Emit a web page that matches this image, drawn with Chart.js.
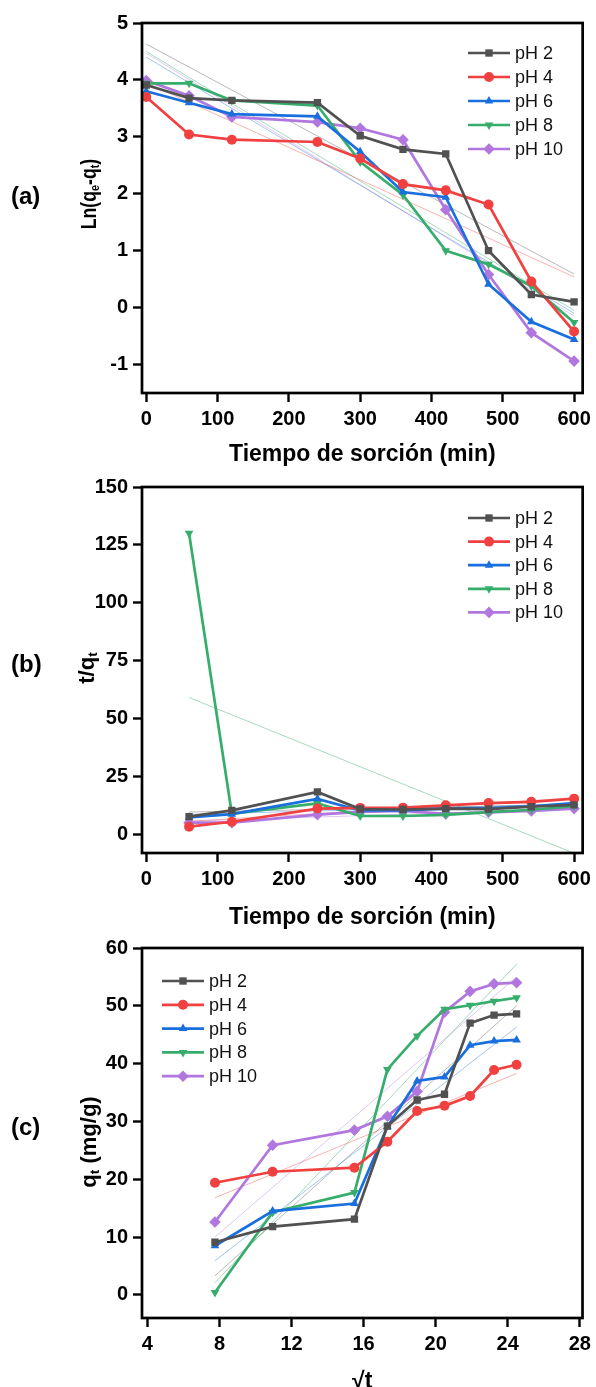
<!DOCTYPE html>
<html>
<head>
<meta charset="utf-8">
<script src="https://cdn.jsdelivr.net/npm/chart.js@4.4.1/dist/chart.umd.min.js"></script>
<style>
  html, body { margin: 0; padding: 0; background: #fff; }
  .panel { position: absolute; left: 0; width: 596px; }
</style>
</head>
<body>
<div class="panel" style="top:0px;height:470px"><canvas id="chartA" width="596" height="470"></canvas></div>
<div class="panel" style="top:470px;height:460px"><canvas id="chartB" width="596" height="460"></canvas></div>
<div class="panel" style="top:920px;height:467px"><canvas id="chartC" width="596" height="467"></canvas></div>
<script>
// series names and colours
const seriesNames = ['pH 2', 'pH 4', 'pH 6', 'pH 8', 'pH 10'];
const colors = ['#515151', '#F14040', '#1A6FDF', '#37AD6B', '#B177DE'];
const fitColors = ['rgba(81,81,81,0.45)', 'rgba(241,64,64,0.45)', 'rgba(26,111,223,0.45)', 'rgba(55,173,107,0.5)', 'rgba(177,119,222,0.45)'];
const markers = ['rect', 'circle', 'triangle', 'triangle', 'rectRot'];
const rotations = [0, 0, 0, 180, 0];

// (a) Ln(qe-qt) vs t
const timeA = [0, 60, 120, 240, 300, 360, 420, 480, 540, 600];
const lnPH2 = [3.91, 3.68, 3.64, 3.60, 3.02, 2.78, 2.70, 1.00, 0.23, 0.10];
const lnPH4 = [3.70, 3.04, 2.95, 2.91, 2.62, 2.17, 2.06, 1.81, 0.46, -0.42];
const lnPH6 = [3.80, 3.60, 3.40, 3.36, 2.74, 2.03, 1.94, 0.41, -0.25, -0.56];
const lnPH8 = [3.94, 3.94, 3.64, 3.55, 2.56, 1.98, 1.00, 0.76, 0.38, -0.26];
const lnPH10 = [3.99, 3.72, 3.35, 3.26, 3.15, 2.95, 1.72, 0.58, -0.44, -0.94];
const fitXA = [0, 600];
const fitA = [[4.63, 0.59], [3.95, 0.54], [4.40, -0.10], [4.50, -0.05], [4.47, -0.15]];
const ticksXA = [0, 100, 200, 300, 400, 500, 600];
const ticksYA = [-1, 0, 1, 2, 3, 4, 5];

// (b) t/qt vs t
const timeB = [60, 120, 240, 300, 360, 420, 480, 540, 600];
const tqPH2 = [7.5, 10.2, 18.2, 10.8, 10.6, 11.0, 10.8, 11.8, 12.6];
const tqPH4 = [3.2, 5.3, 11.0, 11.3, 11.4, 12.4, 13.4, 13.9, 15.3];
const tqPH6 = [7.2, 8.6, 15.2, 10.2, 10.2, 11.0, 11.2, 12.0, 13.4];
const tqPH8 = [130, 8.8, 13.2, 7.8, 7.8, 8.3, 9.5, 10.5, 12.0];
const tqPH10 = [4.9, 4.9, 8.4, 9.6, 10.0, 8.7, 9.4, 10.0, 11.0];
const fitXB = [60, 600];
const fitB = [[9.5, 12.8], [5.5, 15.5], [8.5, 13.0], [59, -8.3], [5.5, 11.0]];
const ticksXB = [0, 100, 200, 300, 400, 500, 600];
const ticksYB = [0, 25, 50, 75, 100, 125, 150];

// (c) qt vs sqrt(t)
const sqrtT = [7.75, 10.95, 15.49, 17.32, 18.97, 20.49, 21.91, 23.24, 24.49];
const qPH2 = [9.1, 11.8, 13.1, 29.2, 33.7, 34.7, 47.0, 48.4, 48.6];
const qPH4 = [19.4, 21.3, 22.0, 26.5, 31.8, 32.7, 34.4, 38.9, 39.8];
const qPH6 = [8.5, 14.5, 15.8, 29.1, 37.0, 37.7, 43.2, 43.9, 44.1];
const qPH8 = [0.4, 14.3, 17.7, 39.0, 44.8, 49.4, 50.1, 50.8, 51.4];
const qPH10 = [12.6, 25.9, 28.5, 30.9, 35.2, 48.9, 52.5, 53.8, 54.0];
const fitXC = [7.75, 24.49];
const fitC = [[3.3, 50.0], [16.8, 38.3], [5.9, 46.3], [2.1, 57.2], [10.0, 55.0]];
const ticksXC = [4, 8, 12, 16, 20, 24, 28];
const ticksYC = [0, 10, 20, 30, 40, 50, 60];

const sans = "'Liberation Sans', Arial, sans-serif";

function markerRadius(i) {
  return markers[i] === 'rect' ? 5.2 : (markers[i] === 'rectRot' ? 5.8 : 5);
}

function makeDatasets(xs, seriesList, fitX, fits) {
  const sets = [];
  seriesList.forEach((ys, i) => {
    sets.push({
      label: seriesNames[i],
      data: ys.map((y, k) => ({ x: xs[k], y: y })),
      borderColor: colors[i],
      backgroundColor: colors[i],
      borderWidth: 2.7,
      pointStyle: markers[i],
      rotation: rotations[i],
      pointRadius: markerRadius(i),
      pointBorderWidth: 0,
      tension: 0,
      order: 1
    });
  });
  fits.forEach((f, i) => {
    sets.push({
      label: 'fit ' + seriesNames[i],
      data: f.map((y, k) => ({ x: fitX[k], y: y })),
      borderColor: fitColors[i],
      borderWidth: 0.9,
      pointRadius: 0,
      tension: 0,
      order: 10
    });
  });
  return sets;
}

function axisOpts(min, max, tickValues, fit) {
  return {
    type: 'linear',
    min: min, max: max,
    ticks: {
      color: '#000',
      font: { family: sans, size: 20, weight: 'bold' },
      padding: 5,
      autoSkip: false,
      maxRotation: 0
    },
    grid: {
      display: true, drawOnChartArea: false, drawTicks: true,
      tickLength: 9, tickWidth: 2.4, tickColor: '#000', color: '#000'
    },
    border: { display: false },
    afterBuildTicks: s => { s.ticks = tickValues.map(v => ({ value: v })); },
    afterFit: fit
  };
}

// text with subscripts, optionally rotated and condensed
function drawRich(ctx, parts, cx, cy, size, rotate, squeeze) {
  ctx.save();
  ctx.translate(cx, cy);
  if (rotate) ctx.rotate(-Math.PI / 2);
  ctx.scale(squeeze, 1);
  let total = 0;
  parts.forEach(p => {
    ctx.font = 'bold ' + (p.sub ? size * 0.62 : size) + 'px ' + sans;
    total += ctx.measureText(p.t).width;
  });
  let x = -total / 2;
  ctx.fillStyle = '#000';
  ctx.textBaseline = 'alphabetic';
  ctx.textAlign = 'left';
  parts.forEach(p => {
    ctx.font = 'bold ' + (p.sub ? size * 0.62 : size) + 'px ' + sans;
    ctx.fillText(p.t, x, p.sub ? size * 0.5 : size * 0.36);
    x += ctx.measureText(p.t).width;
  });
  ctx.restore();
}

function panelPlugin(cfg) {
  return {
    id: 'panel' + cfg.tag,
    afterDraw(chart) {
      const ctx = chart.ctx;
      const a = chart.chartArea;
      ctx.save();
      // frame
      ctx.strokeStyle = '#000';
      ctx.lineWidth = 2.7;
      ctx.strokeRect(a.left, a.top, a.right - a.left, a.bottom - a.top);
      // panel tag
      ctx.fillStyle = '#000';
      ctx.font = 'bold 24px ' + sans;
      ctx.textAlign = 'left';
      ctx.textBaseline = 'middle';
      ctx.fillText('(' + cfg.tag + ')', 11, cfg.tagY);
      // axis titles
      drawRich(ctx, cfg.xTitle, (a.left + a.right) / 2, cfg.xTitleY, 23, false, 1);
      drawRich(ctx, cfg.yTitle, cfg.yTitleX, cfg.yTitleY, 22, true, cfg.ySqueeze);
      // legend: line sample + marker + text
      for (let i = 0; i < seriesNames.length; i++) {
        const y = cfg.legY + i * cfg.legStep;
        const x0 = cfg.legX;
        ctx.strokeStyle = colors[i];
        ctx.lineWidth = 2.7;
        ctx.beginPath();
        ctx.moveTo(x0, y);
        ctx.lineTo(x0 + 42, y);
        ctx.stroke();
        ctx.fillStyle = colors[i];
        Chart.helpers.drawPoint(ctx, {
          pointStyle: markers[i], rotation: rotations[i],
          radius: markerRadius(i), borderWidth: 0
        }, x0 + 21, y);
        ctx.fillStyle = '#111';
        ctx.font = '18px ' + sans;
        ctx.textAlign = 'left';
        ctx.textBaseline = 'middle';
        ctx.fillText(seriesNames[i], x0 + 47, y + 1);
      }
      ctx.restore();
    }
  };
}

function makeChart(id, datasets, xAxis, yAxis, pad, plugin) {
  return new Chart(document.getElementById(id), {
    type: 'line',
    data: { datasets: datasets },
    options: {
      responsive: false,
      animation: false,
      layout: { padding: pad },
      plugins: { legend: { display: false }, tooltip: { enabled: false } },
      scales: { x: xAxis, y: yAxis }
    },
    plugins: [plugin]
  });
}

// panel (a): chart area 142..585 x 23..393
makeChart('chartA',
  makeDatasets(timeA, [lnPH2, lnPH4, lnPH6, lnPH8, lnPH10], fitXA, fitA),
  axisOpts(-6, 612, ticksXA, s => { s.height = 77; }),
  axisOpts(-1.5, 5, ticksYA, s => { s.width = 142; }),
  { top: 23, right: 11, left: 0, bottom: 0 },
  panelPlugin({
    tag: 'a', tagY: 197,
    xTitle: [{ t: 'Tiempo de sorción (min)' }], xTitleY: 453,
    yTitle: [{ t: 'Ln(q' }, { t: 'e', sub: true }, { t: '-q' }, { t: 't', sub: true }, { t: ')' }],
    yTitleX: 88, yTitleY: 194, ySqueeze: 0.8,
    legX: 468, legY: 53, legStep: 24
  }));

// panel (b): chart area 142..585 x 487..853 (local 17..383)
makeChart('chartB',
  makeDatasets(timeB, [tqPH2, tqPH4, tqPH6, tqPH8, tqPH10], fitXB, fitB),
  axisOpts(-6, 612, ticksXB, s => { s.height = 77; }),
  axisOpts(-8.2, 150, ticksYB, s => { s.width = 142; }),
  { top: 17, right: 11, left: 0, bottom: 0 },
  panelPlugin({
    tag: 'b', tagY: 195,
    xTitle: [{ t: 'Tiempo de sorción (min)' }], xTitleY: 446,
    yTitle: [{ t: 't/q' }, { t: 't', sub: true }],
    yTitleX: 86, yTitleY: 198, ySqueeze: 1,
    legX: 468, legY: 48, legStep: 23.6
  }));

// panel (c): chart area 142..585 x 948..1318 (local 28..398)
makeChart('chartC',
  makeDatasets(sqrtT, [qPH2, qPH4, qPH6, qPH8, qPH10], fitXC, fitC),
  axisOpts(3.7, 28.15, ticksXC, s => { s.height = 69; }),
  axisOpts(-4, 60, ticksYC, s => { s.width = 142; }),
  { top: 28, right: 11, left: 0, bottom: 0 },
  panelPlugin({
    tag: 'c', tagY: 208,
    xTitle: [{ t: '√t' }], xTitleY: 460,
    yTitle: [{ t: 'q' }, { t: 't', sub: true }, { t: ' (mg/g)' }],
    yTitleX: 88, yTitleY: 222, ySqueeze: 1,
    legX: 162, legY: 61, legStep: 23.8
  }));
</script>
</body>
</html>
